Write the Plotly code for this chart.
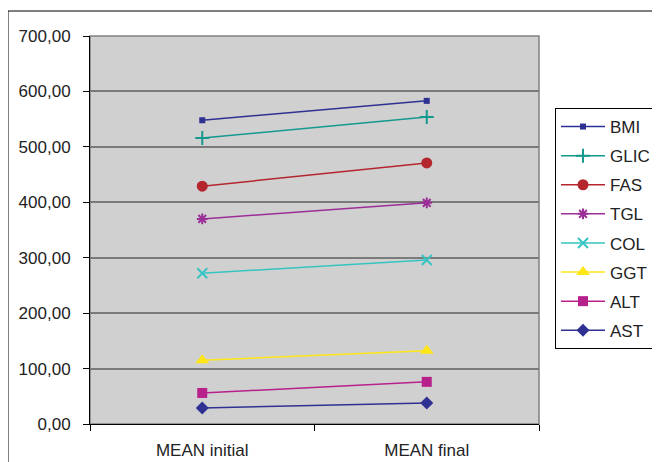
import plotly.graph_objects as go

categories = ["MEAN initial", "MEAN final"]
series_names = ["BMI", "GLIC", "FAS", "TGL", "COL", "GGT", "ALT", "AST"]
bmi = [548, 583]
glic = [516, 554]
fas = [429, 471]
tgl = [370, 399]
col = [272, 296]
ggt = [115, 132]
alt = [56, 76]
ast = [29, 38]
y_ticks = [0, 100, 200, 300, 400, 500, 600, 700]

values = [bmi, glic, fas, tgl, col, ggt, alt, ast]
colors = ["#2E3192", "#14998F", "#B3262E", "#9B2F98", "#35C4C2", "#FFE617", "#B8208C", "#2E3192"]
symbols = ["square", "cross-thin", "circle", "asterisk", "x-thin", "triangle-up", "square", "diamond"]
sizes = [6, 10, 11, 9, 10, 12, 10, 10]

fig = go.Figure()
for name, vals, c, s, sz in zip(series_names, values, colors, symbols, sizes):
    thin = s in ("cross-thin", "asterisk", "x-thin")
    fig.add_trace(go.Scatter(
        x=categories, y=vals, name=name, mode="lines+markers",
        legendgroup=name,
        line=dict(color=c, width=1.5),
        marker=dict(symbol=s, size=sz, color=c,
                    line=dict(color=c, width=2 if thin else 0)),
    ))

# page body has an 8px margin, so the figure starts at (8, 8)
W, H = 652, 454
L, T, R, B = 82, 28, 121, 38
pw, ph = W - L - R, H - T - B

fig.update_layout(
    width=W, height=H,
    margin=dict(l=L, r=R, t=T, b=B, autoexpand=False),
    paper_bgcolor="white",
    plot_bgcolor="#D0D0D0",
    separators=",.",
    font=dict(family="Liberation Sans, Arial, sans-serif", size=17, color="#222222"),
    showlegend=True,
    legend=dict(
        xref="container", yref="container",
        x=(555 - 8) / W, xanchor="left", y=1 - (108 - 8) / H, yanchor="top",
        bgcolor="white", bordercolor="black", borderwidth=1,
        font=dict(size=17, color="#222222"),
        tracegroupgap=4, itemwidth=44, maxheight=420,
    ),
    shapes=[
        dict(type="rect", xref="paper", yref="paper", x0=0, x1=1, y0=0, y1=1,
             line=dict(color="#808080", width=1.5), fillcolor="rgba(0,0,0,0)", layer="below"),
        dict(type="rect", xref="paper", yref="paper",
             x0=-L / pw, x1=(W + 20 - L) / pw, y0=-(B + 20) / ph, y1=(ph + T - 3) / ph,
             line=dict(color="black", width=1), fillcolor="rgba(0,0,0,0)"),
    ],
)
fig.update_xaxes(
    type="category", range=[-0.5, 1.5], automargin=False,
    showline=True, linecolor="black", linewidth=1,
    ticks="outside", tickson="boundaries", ticklen=6, tickcolor="black",
    showgrid=False, zeroline=False,
    tickfont=dict(size=17, color="#222222"),
    ticklabelstandoff=11,
)
fig.update_yaxes(
    range=[0, 700], tickvals=y_ticks, tickformat=".2f", automargin=False,
    showline=True, linecolor="black", linewidth=1,
    ticks="outside", ticklen=6, tickcolor="black",
    showgrid=True, gridcolor="#7A7A7A", gridwidth=1.5,
    zeroline=False,
    tickfont=dict(size=17, color="#222222"),
    ticklabelstandoff=9,
)

fig.write_html("out.html")
